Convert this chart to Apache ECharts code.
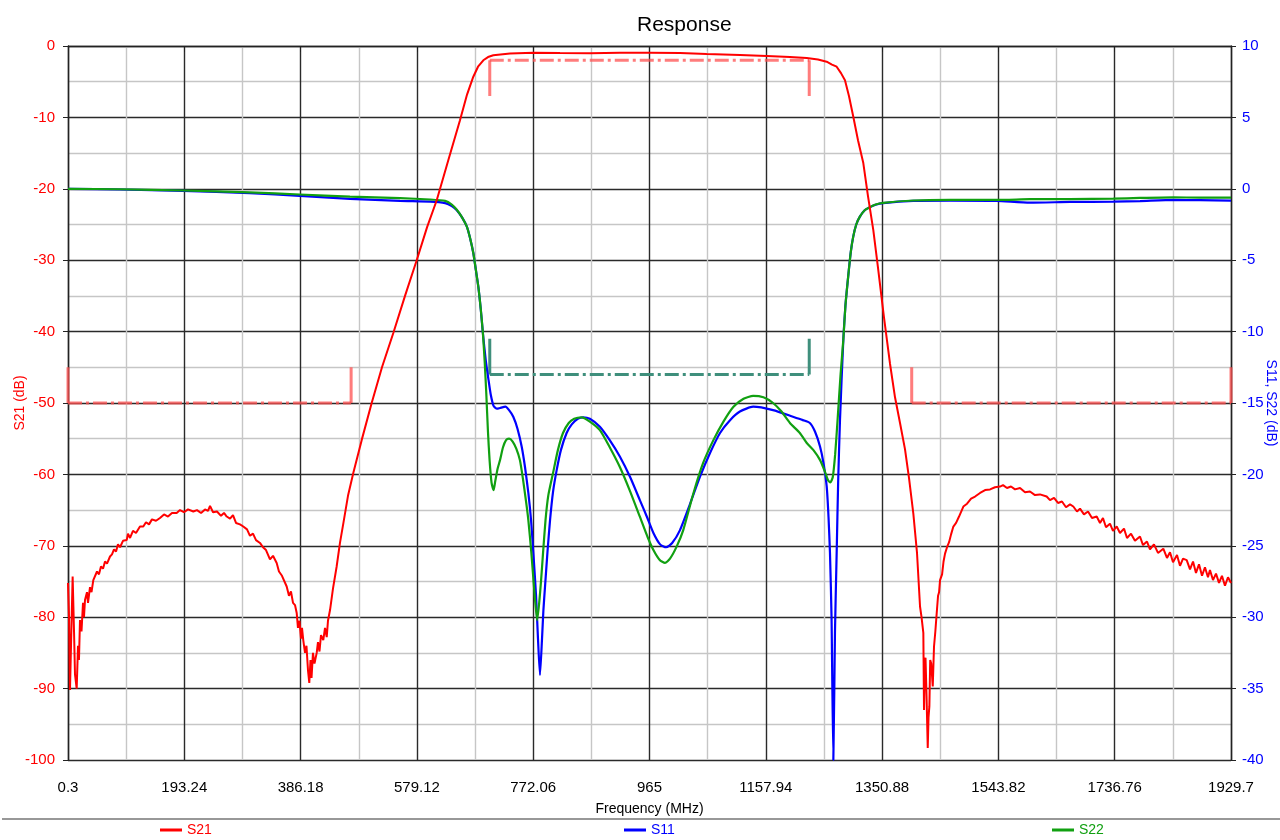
<!DOCTYPE html>
<html>
<head>
<meta charset="utf-8">
<script src="https://cdn.jsdelivr.net/npm/echarts@6/dist/echarts.min.js"></script>
<style>
html,body{margin:0;padding:0;background:#fff;}
#chart{width:1280px;height:840px;}
</style>
</head>
<body>
<div id="chart"></div>
<script>
// ---------- data (frequency MHz, dB) ----------
const xTickLabels = ['0.3','193.24','386.18','579.12','772.06','965','1157.94','1350.88','1543.82','1736.76','1929.7'];
const leftTicks = [0,-10,-20,-30,-40,-50,-60,-70,-80,-90,-100];
const rightTicks = [10,5,0,-5,-10,-15,-20,-25,-30,-35,-40];

const s21 = [
[0.3,-75.2],[2,-80],[3.6,-90.2],[5.3,-84],[8,-74.3],[10.3,-82],[11.9,-88],[14.7,-90],[16.9,-84],[18.5,-86],
[20.2,-80.4],[22.7,-82],[25.2,-78],[26.8,-80],[28.5,-77.6],[31.8,-76.5],[33.5,-78],[36.8,-75.8],[39.3,-76.5],
[42.3,-74.8],[45.1,-75],[48.4,-73.6],[51.7,-74],[55,-72.9],[58.4,-73.2],[61.7,-72.2],[65,-72.5],[70,-71.5],
[73.3,-71.2],[76.6,-70.5],[80,-70.8],[83.2,-69.8],[86.6,-70.2],[91.5,-69.3],[97.7,-69.2],[99.8,-68.3],
[103.2,-68.9],[108.1,-67.9],[113.1,-68.2],[119.7,-67.3],[125.2,-67.3],[129.7,-66.7],[134.7,-67],[139.6,-66.3],
[146.3,-66.5],[152.9,-66.1],[159.6,-65.6],[166.2,-65.9],[172.8,-65.4],[180.6,-65.4],[186.1,-65.0],[192.7,-65.3],
[199.4,-64.9],[208.2,-65.2],[214.3,-65.0],[221,-65.4],[227.6,-64.9],[232.6,-65.1],[235.9,-64.4],[240.9,-65.3],
[247.5,-65.2],[254.1,-65.8],[259.1,-65.4],[263.6,-65.9],[269.1,-66.2],[274,-65.7],[279,-66.8],[285.6,-67],
[291.1,-67.3],[297.3,-67.7],[302.2,-68.6],[307.2,-68.3],[312.2,-69.2],[318.8,-69.6],[323.8,-70.2],[328.8,-70.6],
[335.4,-71.9],[340.4,-71.4],[346.5,-72.4],[350.3,-73.6],[355.3,-74.2],[358.6,-74.0],[363.1,-75.7],[366.9,-77],
[370.2,-76.4],[373.6,-78],[376.9,-78.3],[379.7,-79.4],[381.8,-81.5],[384.3,-80.5],[386.8,-83],[388.5,-81.5],
[390.6,-83.2],[393.5,-85],[395.9,-84],[398.5,-87.5],[400.6,-89.2],[402.6,-86],[404.3,-88.5],[406.7,-85],
[409.2,-86.5],[412.9,-85],[415,-83.5],[417.5,-84.8],[420,-82.5],[423.8,-83.2],[426.7,-81.5],[429.5,-82.8],
[431.6,-80.5],[435,-79],[439.9,-76],[446,-72.9],[451.5,-69.6],[457,-66.9],[464.8,-63],[473.6,-59.8],
[487.5,-55.2],[504.1,-50],[521.2,-45],[540,-40.2],[559.4,-35],[578.8,-30],[595.9,-25.4],[612,-21.6],
[631.2,-16],[650.6,-10.4],[662.3,-6.8],[672.7,-4.3],[680.5,-2.9],[689.3,-2.0],[697.1,-1.55],[705.9,-1.3],
[733.6,-1.05],[772.3,-0.93],[816.5,-0.97],[866.3,-1.0],[916,-0.95],[965.8,-0.93],[1015.6,-0.98],[1059.9,-1.12],
[1115.1,-1.25],[1159.4,-1.4],[1198,-1.55],[1225.8,-1.68],[1244.5,-1.9],[1258.9,-2.2],[1267.7,-2.6],[1275.5,-2.9],
[1282.7,-3.8],[1289.3,-4.8],[1295.9,-7],[1303.1,-9.9],[1310.9,-13.2],[1319.7,-16.4],[1327.4,-21],[1336.3,-25.8],
[1344,-31],[1354,-38],[1364,-44.5],[1372.3,-49.2],[1380.6,-52.8],[1388.9,-56.5],[1395.5,-60.5],[1402.7,-65.5],
[1408.8,-71],[1413.8,-78.5],[1416.3,-80],[1419.3,-82.2],[1420.4,-93],[1421.8,-86],[1422.9,-85.7],[1424.6,-91],
[1426.6,-98.3],[1427.9,-94],[1429.3,-92.5],[1430.7,-86],[1432.4,-86.5],[1434.9,-89.7],[1437,-84.1],[1439.2,-82],
[1441.5,-79.4],[1443.7,-77],[1445.4,-76.5],[1447,-74.8],[1450.4,-74],[1452.8,-72.2],[1455.3,-71.1],[1458.6,-70.2],
[1462,-69.5],[1465.3,-68.4],[1469.1,-67.3],[1473.6,-66.8],[1478.5,-65.9],[1485.7,-64.5],[1491.8,-64.1],
[1498.5,-63.4],[1505.1,-63.1],[1513.4,-62.6],[1521.7,-62.2],[1530,-62.1],[1538.2,-61.8],[1546.5,-61.7],
[1551.5,-61.5],[1558.1,-61.9],[1564.7,-61.7],[1571.4,-62.1],[1579.7,-61.9],[1588,-62.5],[1596.2,-62.4],
[1604.5,-62.9],[1612.8,-62.8],[1623.9,-63.1],[1629.4,-63.6],[1636.1,-63.3],[1642.7,-64],[1649.3,-63.8],
[1656,-64.6],[1662.6,-64.2],[1668.1,-64.5],[1674.2,-65.2],[1679.2,-64.8],[1685.8,-65.6],[1692.5,-65.2],
[1699.1,-66.1],[1706.9,-65.9],[1712.4,-66.8],[1717.3,-66.1],[1722.3,-67.4],[1728.9,-66.9],[1733.9,-67.9],
[1740.1,-67.3],[1745.5,-68.2],[1752.2,-67.6],[1757.2,-68.9],[1763.8,-68.3],[1770.4,-69.3],[1778.7,-68.7],
[1783.7,-69.9],[1790.3,-69.4],[1795.3,-70.5],[1801.9,-69.8],[1808.6,-71],[1817.4,-70.4],[1823.5,-71.7],
[1828.5,-70.9],[1833.5,-72.3],[1840.1,-71.3],[1845.1,-72.8],[1850.1,-71.8],[1856.2,-72.0],[1861.7,-73.3],
[1866.7,-72.2],[1871.6,-73.8],[1876.6,-72.6],[1881.6,-74.2],[1886.5,-73],[1891.5,-74.4],[1894.8,-73.4],
[1899.8,-74.8],[1904.8,-73.9],[1909.8,-75.2],[1914.7,-74.2],[1919.7,-75.6],[1924.7,-74.4],[1929.7,-75.2]
];

const s11 = [
[0.3,0],[86.6,-0.05],[191,-0.15],[302,-0.3],[385,-0.5],[468,-0.7],[551,-0.85],[601,-0.9],[626,-1.0],[637,-1.2],
[645,-1.48],[654,-2.0],[662,-2.65],[667,-3.4],[672.7,-4.5],[677,-5.7],[681,-6.85],[685,-8.4],[688.6,-10.1],
[693.3,-12],[698,-13.4],[701.6,-14.4],[706.3,-15.2],[712,-15.4],[717,-15.35],[726,-15.26],[732,-15.5],[739,-15.96],
[746,-16.8],[753,-18.06],[758.5,-19.5],[764,-21.3],[768.5,-23.2],[772.3,-25.5],[776.8,-28.5],[780,-31.5],
[783.3,-34.05],[786.7,-31.5],[789,-29.5],[791.6,-27.9],[795.8,-25.4],[800,-23.2],[805,-21.2],[811,-19.7],
[818,-18.3],[827.5,-17.1],[836,-16.5],[846,-16.1],[855,-16.0],[866,-16.1],[882.7,-16.66],[899,-17.6],[916,-18.76],
[933,-20.2],[949,-21.8],[961,-23.0],[971.5,-24.1],[982.6,-24.9],[992.6,-25.1],[1002.6,-24.8],[1015.6,-23.9],
[1032,-22.1],[1048.8,-20.16],[1065.4,-18.5],[1082,-17.1],[1098.6,-16.2],[1115,-15.6],[1137,-15.26],[1170,-15.5],
[1203,-15.96],[1219.5,-16.2],[1231,-16.4],[1239.5,-17],[1248,-18.06],[1253.6,-19.2],[1259,-20.86],[1262,-23],
[1264.4,-25.5],[1267,-30],[1270,-40],[1272.7,-31],[1275.5,-25.5],[1278,-20.5],[1281,-16.2],[1286.5,-10.6],
[1290,-8.2],[1294.6,-6.15],[1299,-4.4],[1303,-3.35],[1308,-2.5],[1314,-1.95],[1322,-1.5],[1330,-1.3],[1340,-1.12],
[1352.8,-1.0],[1402.6,-0.85],[1463.6,-0.83],[1541,-0.85],[1596,-0.97],[1662.6,-0.92],[1734.4,-0.9],[1778.7,-0.86],
[1834,-0.78],[1878,-0.8],[1929.7,-0.83]
];

const s22 = [
[0.3,0],[86.6,-0.03],[191,-0.12],[302,-0.25],[385,-0.4],[468,-0.55],[551,-0.65],[601,-0.75],[626,-0.85],[637,-1.1],
[645,-1.45],[654,-2.0],[662,-2.65],[667,-3.4],[672.7,-4.5],[677,-5.7],[681,-6.85],[685,-8.4],[688.6,-10.1],
[691.7,-12.2],[694.2,-14.3],[697,-17],[699.7,-19],[703,-20.6],[706.4,-21.1],[709,-20.5],[713,-19.6],[717,-19],
[722,-18.1],[727,-17.6],[732,-17.5],[738,-17.7],[744,-18.2],[750,-19],[755,-20.3],[760.5,-22],[764,-23.2],
[769,-25.5],[774,-28.2],[778.6,-30.2],[782,-29],[785,-27.5],[788.4,-25.5],[792.5,-23.2],[797,-21.5],[805,-19.9],
[813,-18.3],[821.5,-17.1],[831,-16.4],[840,-16.1],[852.5,-16.0],[866,-16.3],[882.7,-16.9],[899,-18.1],[916,-19.5],
[933,-21.2],[949,-22.96],[962,-24.4],[971.5,-25.3],[982,-26.0],[990.7,-26.2],[999,-25.9],[1010,-25.06],[1021,-23.9],
[1038,-21.3],[1054,-19.2],[1071,-17.6],[1087.7,-16.3],[1104.3,-15.26],[1121,-14.7],[1137,-14.5],[1154,-14.6],
[1170,-15.0],[1184,-15.6],[1198,-16.4],[1214.4,-17.1],[1225.9,-17.8],[1237,-18.3],[1248,-19],[1256,-19.8],
[1261,-20.4],[1265,-20.56],[1269,-20.2],[1273,-18.6],[1277,-16.2],[1282,-13],[1286.5,-10.6],[1290,-8.2],
[1294.6,-6.15],[1299,-4.4],[1303,-3.35],[1308,-2.5],[1314,-1.95],[1322,-1.5],[1330,-1.3],[1340,-1.1],[1352.8,-0.98],
[1402.6,-0.82],[1463.6,-0.78],[1541,-0.78],[1596,-0.73],[1662.6,-0.72],[1734.4,-0.69],[1778.7,-0.64],[1834,-0.6],
[1878,-0.62],[1929.7,-0.62]
];

// spec masks
const maskS21LowH = [[0.3,-50],[470,-50]];
const maskS21LowV1 = [[0.3,-45],[0.3,-50]];
const maskS21LowV2 = [[470,-45],[470,-50]];
const maskS21HighH = [[1400,-50],[1929.7,-50]];
const maskS21HighV1 = [[1400,-45],[1400,-50]];
const maskS21HighV2 = [[1929.7,-45],[1929.7,-50]];
const maskS21PassH = [[700,-2],[1230,-2]];
const maskS21PassV1 = [[700,-2],[700,-7]];
const maskS21PassV2 = [[1230,-2],[1230,-7]];
const maskS11H = [[700,-13],[1230,-13]];
const maskS11V1 = [[700,-10.5],[700,-13]];
const maskS11V2 = [[1230,-10.5],[1230,-13]];

// ---------- chart ----------
const X0 = 0.3, XSTEP = 192.94;
const sh = arr => arr.map(p => [+(p[0] - X0).toFixed(3), p[1]]);
const FONT = "'Liberation Sans',Arial,sans-serif";
const RED = '#ff0000', BLUE = '#0000ff', GREEN = '#11a011';
const MASKRED = 'rgba(255,80,80,0.75)', MASKTEAL = '#3f8f7c';
const DASHDOT = [14,4,3,4];

function maskSeries(data, color, yIdx, dashed) {
  return {
    type: 'line', data: sh(data), yAxisIndex: yIdx, symbol: 'none', silent: true,
    lineStyle: { color: color, width: 3, type: dashed ? DASHDOT : 'solid' },
    z: 1, animation: false
  };
}

const chart = echarts.init(document.getElementById('chart'), null, { renderer: 'canvas' });
const gridLine = { color: '#2a2a2a', width: 1.4 };
const minorLine = { color: '#c6c6c6', width: 1.4 };

chart.setOption({
  animation: false,
  backgroundColor: '#fff',
  title: { text: 'Response', left: 632, top: 10,
    textStyle: { fontFamily: FONT, fontSize: 21, fontWeight: 'normal', color: '#000' } },
  grid: { left: 68, right: 49, top: 46, bottom: 80, containLabel: false, outerBoundsMode: 'none' },
  legend: [
    { data: ['S21'], left: 155, top: 818, itemWidth: 22, itemHeight: 3, icon: 'rect',
      textStyle: { color: RED, fontSize: 14, fontFamily: FONT } },
    { data: ['S11'], left: 619, top: 818, itemWidth: 22, itemHeight: 3, icon: 'rect',
      textStyle: { color: BLUE, fontSize: 14, fontFamily: FONT } },
    { data: ['S22'], left: 1047, top: 818, itemWidth: 22, itemHeight: 3, icon: 'rect',
      textStyle: { color: GREEN, fontSize: 14, fontFamily: FONT } }
  ],
  xAxis: {
    type: 'value', min: 0, max: XSTEP * 10, interval: XSTEP,
    name: 'Frequency (MHz)', nameLocation: 'middle', nameGap: 42, nameMoveOverlap: false,
    nameTextStyle: { color: '#000', fontSize: 14, fontFamily: FONT },
    axisLine: { show: true, lineStyle: { color: '#222', width: 1.4 } },
    axisTick: { show: true, inside: false, length: 6, lineStyle: { color: '#222' } },
    axisLabel: { color: '#000', fontSize: 15, fontFamily: FONT, margin: 20,
      showMinLabel: true, showMaxLabel: true,
      formatter: v => { const i = Math.round(v / XSTEP); return xTickLabels[i] !== undefined ? xTickLabels[i] : ''; } },
    splitLine: { show: true, lineStyle: gridLine },
    minorTick: { show: false, splitNumber: 2 },
    minorSplitLine: { show: true, lineStyle: minorLine }
  },
  yAxis: [
    {
      type: 'value', min: -100, max: 0, interval: 10, position: 'left',
      name: 'S21 (dB)', nameLocation: 'middle', nameGap: 41, nameMoveOverlap: false,
      nameTextStyle: { color: RED, fontSize: 14, fontFamily: FONT },
      axisLine: { show: true, lineStyle: { color: '#222', width: 1.4 } },
      axisTick: { show: true, length: 5, lineStyle: { color: '#222' } },
      axisLabel: { color: RED, fontSize: 15, fontFamily: FONT, margin: 13,
        formatter: v => leftTicks.includes(v) ? String(v) : '' },
      splitLine: { show: true, lineStyle: gridLine },
      minorTick: { show: false, splitNumber: 2 },
      minorSplitLine: { show: true, lineStyle: minorLine }
    },
    {
      type: 'value', min: -40, max: 10, interval: 5, position: 'right',
      name: 'S11, S22 (dB)', nameLocation: 'middle', nameGap: 33, nameRotate: -90, nameMoveOverlap: false,
      nameTextStyle: { color: BLUE, fontSize: 14, fontFamily: FONT },
      axisLine: { show: true, lineStyle: { color: '#222', width: 1.4 } },
      axisTick: { show: true, length: 5, lineStyle: { color: '#222' } },
      axisLabel: { color: BLUE, fontSize: 15, fontFamily: FONT, margin: 11,
        formatter: v => rightTicks.includes(v) ? String(v) : '' },
      splitLine: { show: false }
    }
  ],
  graphic: [
    { type: 'line', shape: { x1: 2, y1: 819, x2: 1280, y2: 819 }, style: { stroke: '#333', lineWidth: 1.2 }, silent: true }
  ],
  series: [
    maskSeries(maskS21LowH, MASKRED, 0, true),
    maskSeries(maskS21LowV1, MASKRED, 0, false),
    maskSeries(maskS21LowV2, MASKRED, 0, false),
    maskSeries(maskS21HighH, MASKRED, 0, true),
    maskSeries(maskS21HighV1, MASKRED, 0, false),
    maskSeries(maskS21HighV2, MASKRED, 0, false),
    maskSeries(maskS21PassH, MASKRED, 0, true),
    maskSeries(maskS21PassV1, MASKRED, 0, false),
    maskSeries(maskS21PassV2, MASKRED, 0, false),
    maskSeries(maskS11H, MASKTEAL, 1, true),
    maskSeries(maskS11V1, MASKTEAL, 1, false),
    maskSeries(maskS11V2, MASKTEAL, 1, false),
    { name: 'S11', type: 'line', yAxisIndex: 1, data: sh(s11), symbol: 'none', smooth: 0.2,
      color: BLUE, lineStyle: { color: BLUE, width: 2.2 }, z: 3 },
    { name: 'S22', type: 'line', yAxisIndex: 1, data: sh(s22), symbol: 'none', smooth: 0.2,
      color: GREEN, lineStyle: { color: GREEN, width: 2.2 }, z: 4 },
    { name: 'S21', type: 'line', yAxisIndex: 0, data: sh(s21), symbol: 'none', smooth: false,
      color: RED, lineStyle: { color: RED, width: 2 }, z: 5 }
  ]
});
</script>
</body>
</html>
